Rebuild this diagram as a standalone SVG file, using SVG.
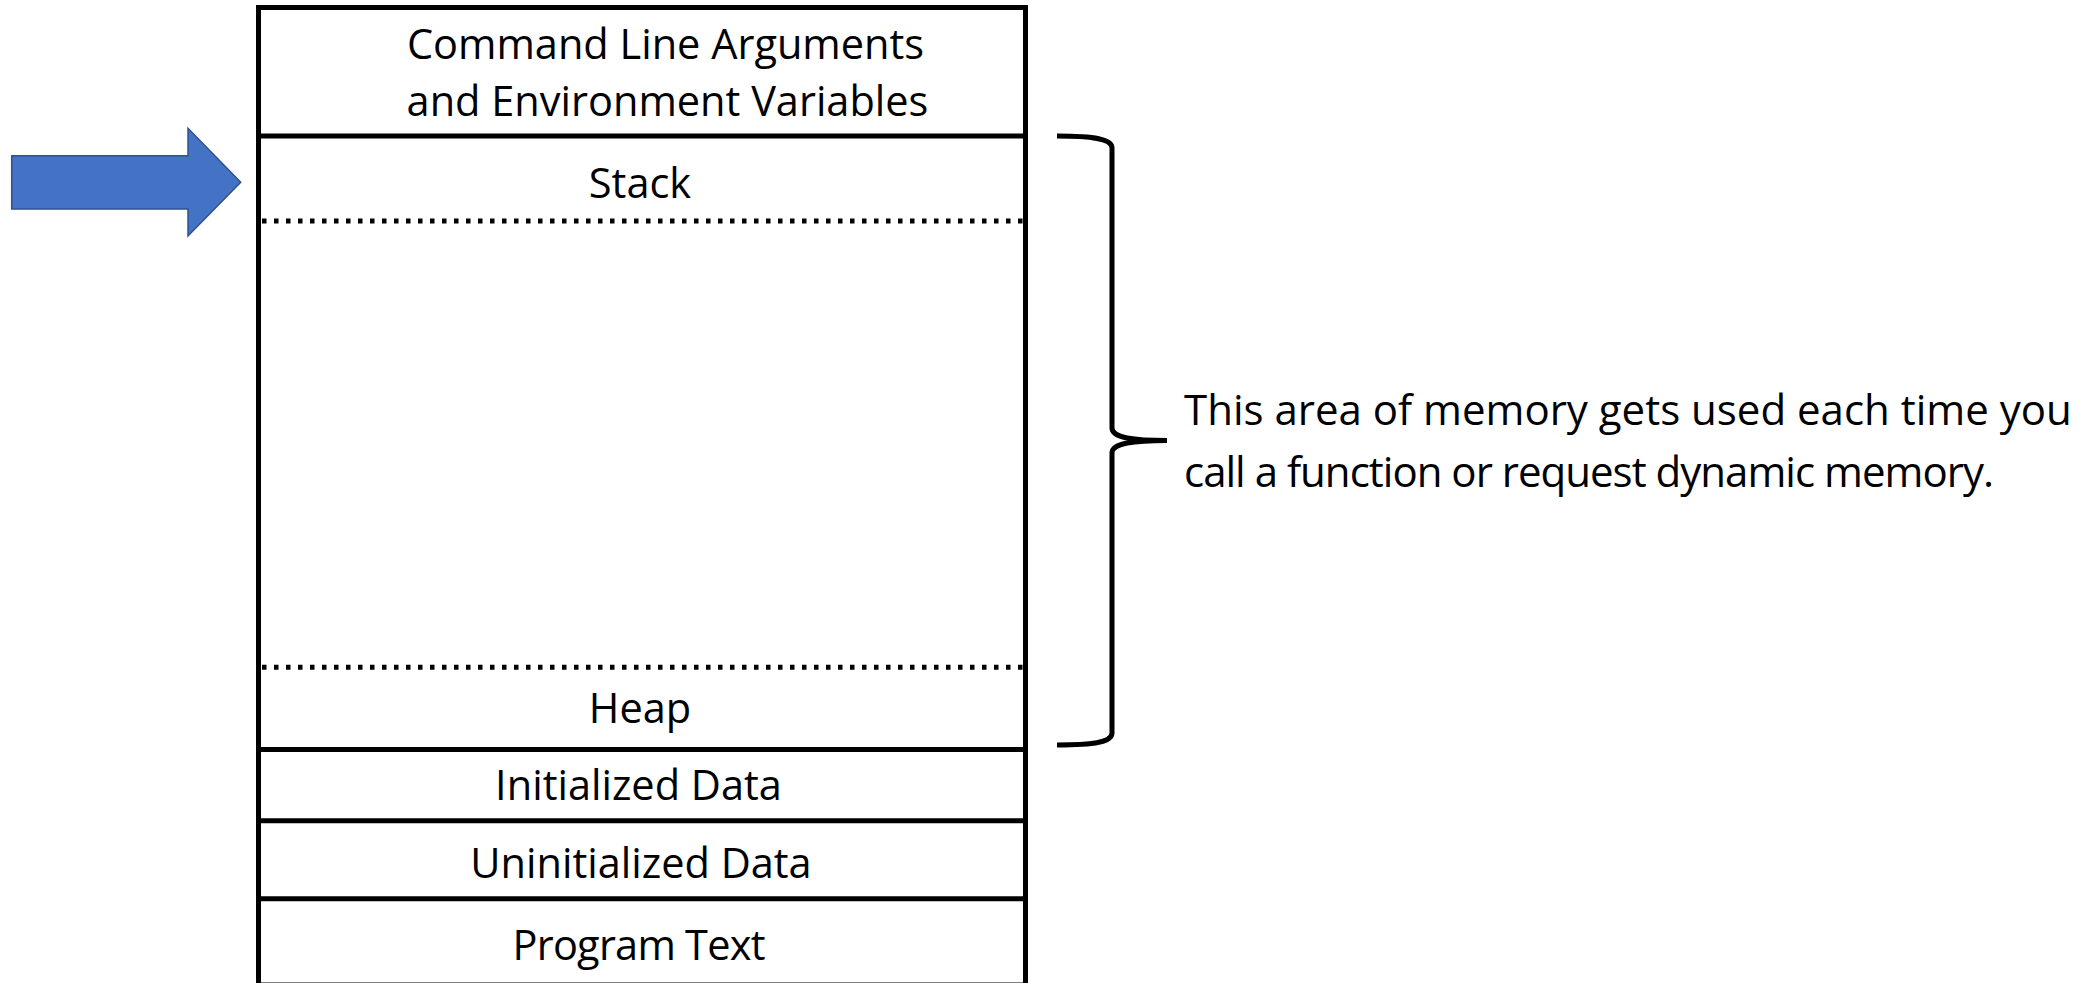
<svg xmlns="http://www.w3.org/2000/svg" width="2093" height="983" viewBox="0 0 2093 983">
<style>
  .lbl { font-family: "Open Sans", "Noto Sans", sans-serif; font-size: 41.5px; fill: #000; }
  .note { font-size: 42px; }
  .mid { text-anchor: middle; }
  .solid { stroke: #000; stroke-width: 5; fill: none; }
  .dot { stroke: #000; stroke-width: 5; stroke-dasharray: 4.5 7.5; fill: none; }
</style>
<rect width="2093" height="983" fill="#fff"/>
<g id="arrow">
  <path d="M11.7,155.7 L188,155.7 L188,128.3 L240.7,182.3 L188,236 L188,209 L11.7,209 Z" fill="#4472C4" stroke="#2F528F" stroke-width="1.5"/>
</g>
<g id="memory-box">
  <rect class="solid" x="258.5" y="7.5" width="767" height="977.5"/>
</g>
<g id="cmdline">
  <text class="lbl mid" x="665.5" y="58.5">Command Line Arguments</text>
  <text class="lbl mid" x="667.5" y="115.5">and Environment Variables</text>
</g>
<g id="stack">
  <line class="solid" x1="258.5" y1="136" x2="1025.5" y2="136"/>
  <text class="lbl mid" x="640" y="198">Stack</text>
  <line class="dot" x1="262" y1="221" x2="1023" y2="221"/>
</g>
<g id="heap">
  <line class="dot" x1="262" y1="667.3" x2="1023" y2="667.3"/>
  <text class="lbl mid" x="640" y="722.7">Heap</text>
</g>
<g id="initialized">
  <line class="solid" x1="258.5" y1="749.5" x2="1025.5" y2="749.5"/>
  <text class="lbl mid" x="638.5" y="800">Initialized Data</text>
</g>
<g id="uninitialized">
  <line class="solid" x1="258.5" y1="820.7" x2="1025.5" y2="820.7"/>
  <text class="lbl mid" x="641" y="878.3">Uninitialized Data</text>
</g>
<g id="program-text">
  <line class="solid" x1="258.5" y1="898.7" x2="1025.5" y2="898.7"/>
  <text class="lbl mid" x="639" y="960" textLength="253" lengthAdjust="spacing">Program Text</text>
</g>
<g id="connectors">
  <path class="solid" d="M1057,136 C1095,136 1112,139 1112,148 L1112,428 C1112,436 1125,440.5 1167,440.5 C1125,440.5 1112,445 1112,453 L1112,733 C1112,742 1095,745 1057,745"/>
</g>
<g id="note">
  <text class="lbl note" x="1184" y="425">This area of memory gets used each time you</text>
  <text class="lbl note" x="1184" y="487" textLength="810" lengthAdjust="spacing">call a function or request dynamic memory.</text>
</g>
</svg>
